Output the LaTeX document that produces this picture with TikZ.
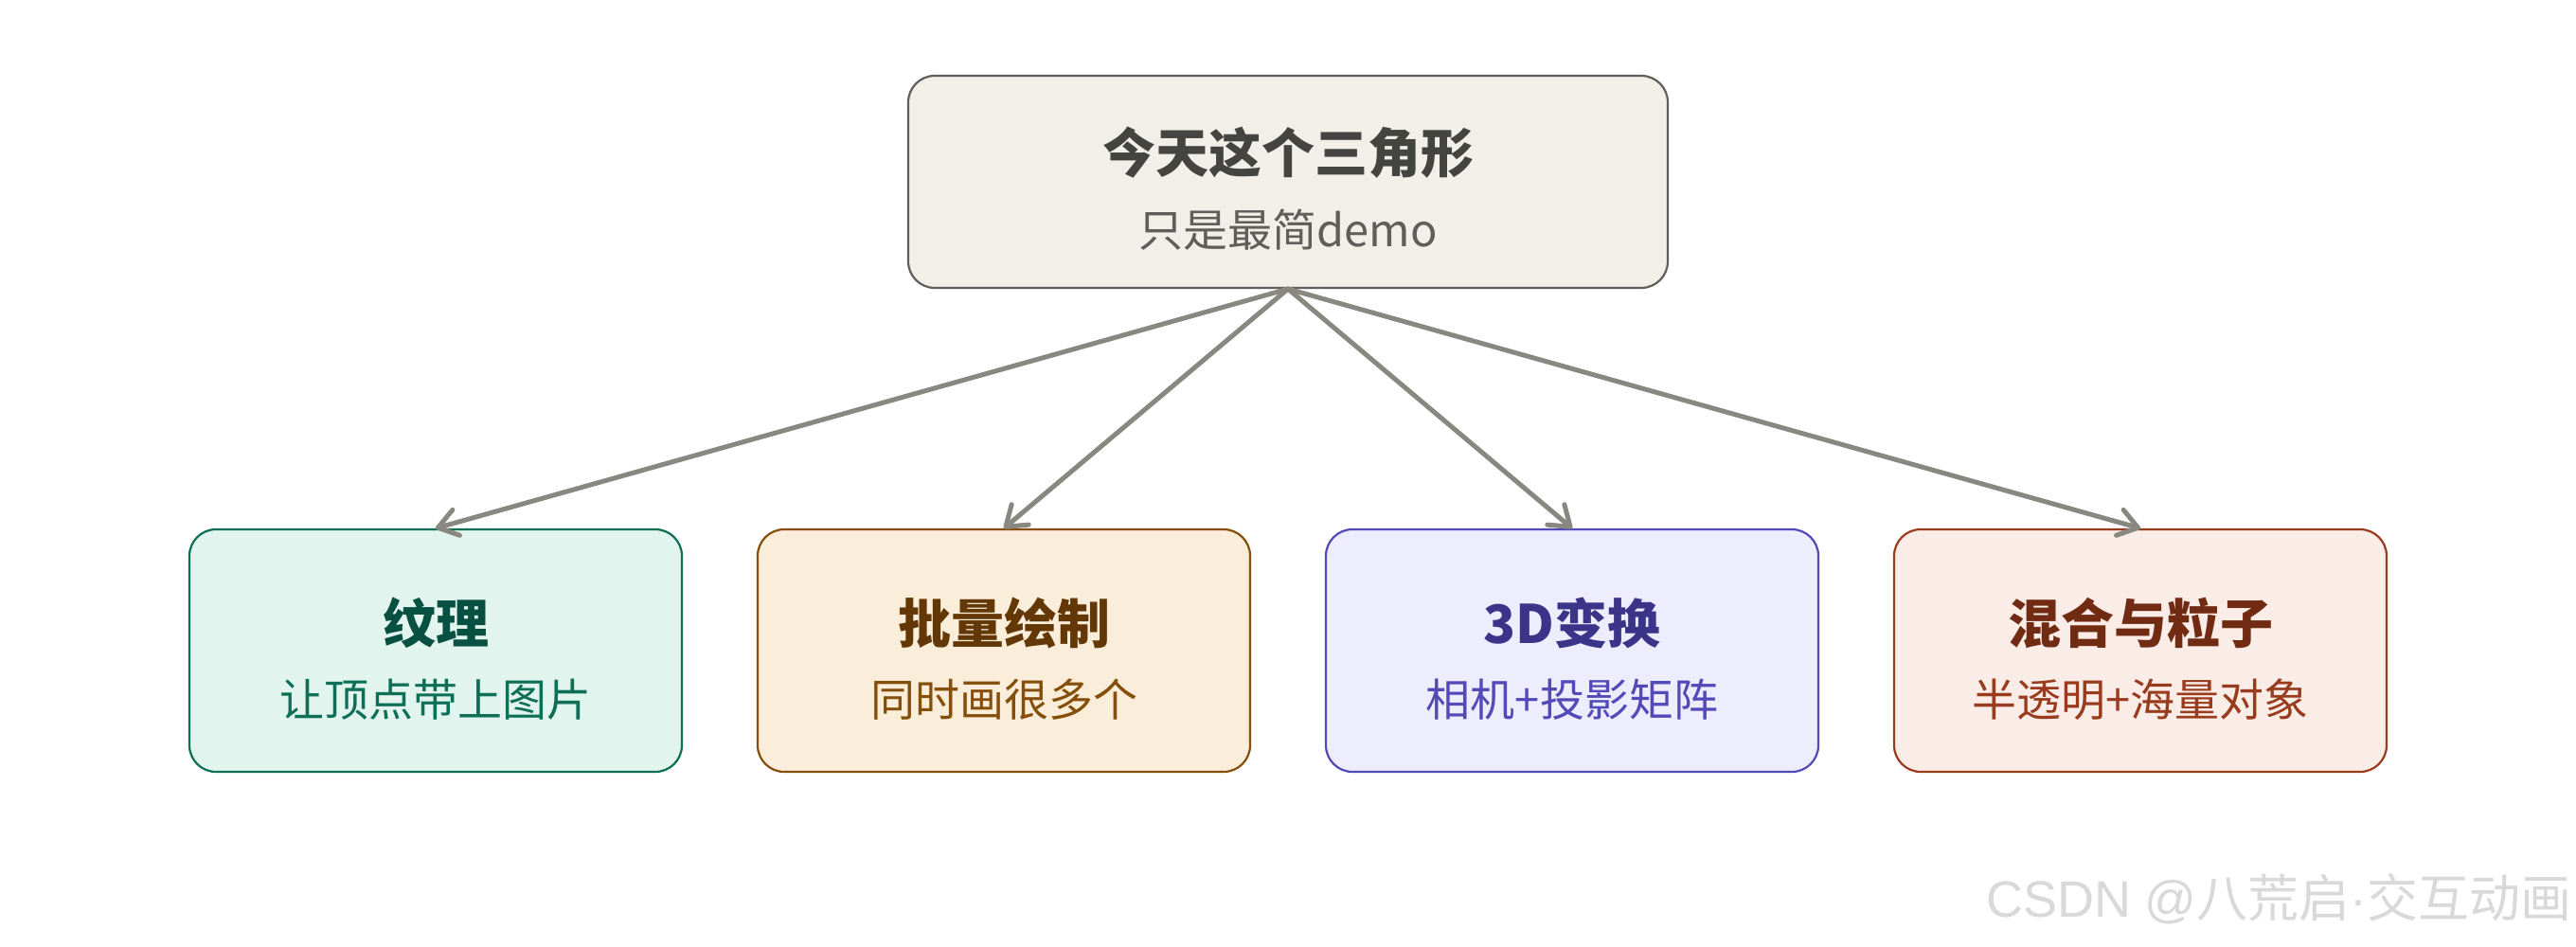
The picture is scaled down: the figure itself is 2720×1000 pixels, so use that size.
\documentclass[tikz,border=0pt]{standalone}
\usepackage{fontspec}
\setmainfont{Noto Sans CJK SC}
\newfontfamily\latfont{Liberation Sans}
\usetikzlibrary{arrows.meta}
\definecolor{topfill}{HTML}{F2EFE9}
\definecolor{topdraw}{HTML}{5F5E5A}
\definecolor{toptitle}{HTML}{444441}
\definecolor{topsub}{HTML}{5F5E5A}
\definecolor{gfill}{HTML}{E1F5EE}
\definecolor{gdraw}{HTML}{0F6E56}
\definecolor{gtitle}{HTML}{085041}
\definecolor{ofill}{HTML}{FAEEDA}
\definecolor{odraw}{HTML}{854F0B}
\definecolor{otitle}{HTML}{633806}
\definecolor{pfill}{HTML}{EEEDFE}
\definecolor{pdraw}{HTML}{534AB7}
\definecolor{ptitle}{HTML}{3C3489}
\definecolor{rfill}{HTML}{FAECE7}
\definecolor{rdraw}{HTML}{993C1D}
\definecolor{rtitle}{HTML}{712B13}
\definecolor{arrowgray}{HTML}{888780}
\definecolor{wmark}{HTML}{D9D9D9}
\tikzset{
  card/.style={rectangle, rounded corners=28pt, line width=2.2pt, inner sep=0pt},
  topcard/.style={card, draw=topdraw, fill=topfill, minimum width=802pt, minimum height=224pt},
  subcard/.style={card, minimum width=520pt, minimum height=256pt},
  titletext/.style={anchor=base, inner sep=0pt, font=\fontsize{56}{60}\selectfont\bfseries},
  subtext/.style={anchor=base, inner sep=0pt, font=\fontsize{47}{52}\selectfont},
  link/.style={draw=arrowgray, line width=5pt, line cap=round, line join=round,
    -{Straight Barb[length=20pt,width=28pt,line width=5pt,round]}},
}
\begin{document}
\begin{tikzpicture}[x=1pt,y=-1pt]
\useasboundingbox[fill=white] (0,0) rectangle (2720,1000);
% top card
\node[topcard] (top) at (1360,192) {};
\node[titletext, text=toptitle] (toptitle) at (1360,183) {今天这个三角形};
\node[subtext, text=topsub] (topsub) at (1360,261) {只是最简demo};
% bottom cards
\node[subcard, draw=gdraw, fill=gfill] (b1) at (460,687) {};
\node[titletext, text=gtitle] (b1t) at (460,679) {纹理};
\node[subtext, text=gdraw] (b1s) at (460,756) {让顶点带上图片};

\node[subcard, draw=odraw, fill=ofill] (b2) at (1060,687) {};
\node[titletext, text=otitle] (b2t) at (1060,679) {批量绘制};
\node[subtext, text=odraw] (b2s) at (1060,756) {同时画很多个};

\node[subcard, draw=pdraw, fill=pfill] (b3) at (1660,687) {};
\node[titletext, text=ptitle] (b3t) at (1660,679) {3D变换};
\node[subtext, text=pdraw] (b3s) at (1660,756) {相机+投影矩阵};

\node[subcard, draw=rdraw, fill=rfill] (b4) at (2260,687) {};
\node[titletext, text=rtitle] (b4t) at (2260,679) {混合与粒子};
\node[subtext, text=rdraw] (b4s) at (2260,756) {半透明+海量对象};
% connectors
\draw[link] (top.south) -- (b1.north);
\draw[link] (top.south) -- (b2.north);
\draw[link] (top.south) -- (b3.north);
\draw[link] (top.south) -- (b4.north);
% watermark
\node[anchor=base east, inner sep=0pt, text=wmark, font=\fontsize{54}{58}\selectfont] (wm) at (2716,968) {{\latfont CSDN @}八荒启{\latfont ·}交互动画};
\end{tikzpicture}
\end{document}
